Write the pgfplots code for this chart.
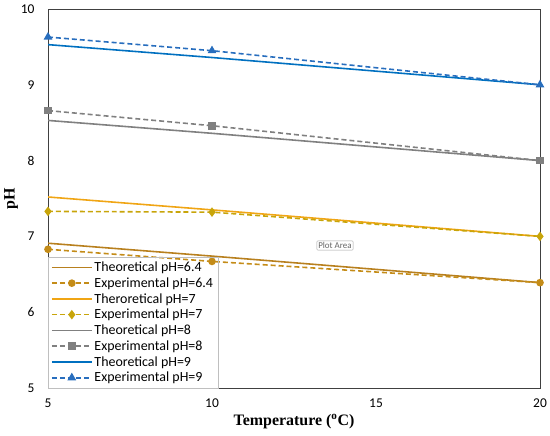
\documentclass[border=0pt]{standalone}
\usepackage{pgfplots}
\pgfplotsset{compat=1.18}
\usepackage{fontspec}
\setmainfont{Carlito}
\newfontfamily\labfont{Liberation Serif}
\definecolor{brn}{RGB}{184,128,30}
\definecolor{brnx}{RGB}{196,140,24}
\definecolor{org}{RGB}{240,165,20}
\definecolor{yel}{RGB}{200,165,10}
\definecolor{gry}{RGB}{128,128,128}
\definecolor{blu}{RGB}{0,112,192}
\definecolor{blux}{RGB}{40,110,190}
\tikzset{th/.style={line width=1.6pt}, ex/.style={line width=1.6pt, dash pattern=on 5pt off 3pt}}
\begin{document}
\begin{tikzpicture}
\begin{axis}[
  name=ax,
  scale only axis,
  width=492bp, height=379bp,
  xmin=5, xmax=20, ymin=5, ymax=10,
  xtick={5,10,15,20}, ytick={5,6,...,10},
  tick style={draw=none},
  axis line style={draw=black!75, line width=0.9pt},
  tick label style={font=\fontsize{13.5}{14}\selectfont},
  /pgf/number format/assume math mode=true,
  xticklabel style={yshift=-7pt},
  yticklabel style={xshift=-10pt},
  xlabel={\labfont\bfseries Temperature (\textsuperscript{o}C)},
  ylabel={\labfont\bfseries pH},
  label style={font=\fontsize{16}{17}\selectfont},
  xlabel style={yshift=0pt},
  ylabel style={yshift=-4pt},
  legend style={at={(0,0)}, anchor=south west, draw=gray!50, fill=none,
    font=\fontsize{14}{14}\selectfont, row sep=0.6pt, inner ysep=2.5pt, inner xsep=3pt},
  legend cell align=left,
  legend image code/.code={
    \draw[mark repeat=2, mark phase=2, #1] plot coordinates {(0cm,0cm) (0.7cm,0cm) (1.4cm,0cm)};},
]
\addplot[brn, th, no markers] coordinates {(5,6.91) (10,6.74) (20,6.39)};
\addlegendentry{Theoretical pH=6.4}
\addplot[brnx, ex, mark=*, mark size=3pt, mark options={solid}] coordinates {(5,6.83) (10,6.67) (20,6.39)};
\addlegendentry{Experimental pH=6.4}
\addplot[org, th, no markers] coordinates {(5,7.52) (10,7.35) (20,7.0)};
\addlegendentry{Theroretical pH=7}
\addplot[yel, ex, mark=diamond*, mark size=3.5pt, mark options={solid}] coordinates {(5,7.33) (10,7.32) (20,7.0)};
\addlegendentry{Experimental pH=7}
\addplot[gry, th, no markers] coordinates {(5,8.53) (10,8.36) (20,8.0)};
\addlegendentry{Theoretical pH=8}
\addplot[gry, ex, mark=square*, mark size=3pt, mark options={solid}] coordinates {(5,8.66) (10,8.46) (20,8.0)};
\addlegendentry{Experimental pH=8}
\addplot[blu, th, no markers] coordinates {(5,9.53) (10,9.36) (20,9.0)};
\addlegendentry{Theoretical pH=9}
\addplot[blux, ex, mark=triangle*, mark size=3.5pt, mark options={solid}] coordinates {(5,9.63) (10,9.45) (20,9.0)};
\addlegendentry{Experimental pH=9}
\node[draw=gray!70, rounded corners=1pt, fill=white, font=\fontsize{9}{10}\selectfont, text=gray!80!black, inner sep=1.5pt] at (axis cs:13.75,6.88) {Plot Area};
\end{axis}
\pgfresetboundingbox
\path ([shift={(-48bp,-48bp)}]ax.south west) rectangle ([shift={(10bp,9bp)}]ax.north east);
\end{tikzpicture}
\end{document}
